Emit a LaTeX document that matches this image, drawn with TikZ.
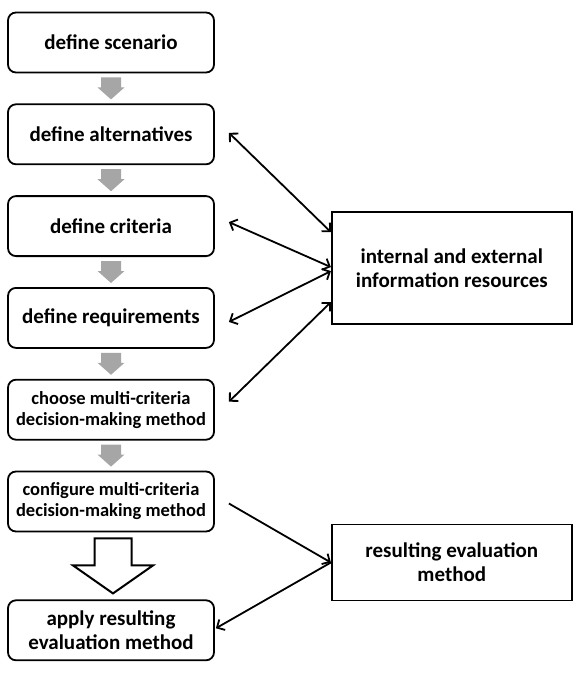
\documentclass[tikz,border=0pt]{standalone}
\usepackage{fontspec}
\setmainfont{Carlito}
\usetikzlibrary{arrows.meta,positioning}

\begin{document}
\begin{tikzpicture}[x=1pt,y=1pt]
 \tikzset{main node/.style={rectangle, draw, line width=1.8pt,
 		text centered, rounded corners=8pt, align=center,
 		minimum width=206pt, minimum height=60pt,
 		font=\fontsize{21}{24}\selectfont\bfseries}, }
 \tikzset{small node/.style={font=\fontsize{18.5}{21}\selectfont\bfseries}, }
 \tikzset{source node/.style={rectangle, draw, line width=1.8pt,
 		text centered, align=center, minimum width=240pt,
 		font=\fontsize{21}{24}\selectfont\bfseries}, }
 \tikzset{flow arrow/.style={fill=black!35}, }
 \tikzset{big arrow/.style={draw, line width=2pt, fill=white}, }
 \tikzset{linea/.style={line width=1.8pt, <->},}
 \tikzset{lineb/.style={line width=1.8pt, ->},}
 \tikzset{>={Straight Barb[length=6pt,width=12pt]}}
 \useasboundingbox (0,0) rectangle (581,-673);
 \node[main node] (1) at (111,-42.5) {define scenario};
 \node[main node] (2) [below =30pt of 1] {define alternatives};
 \node[main node] (3) [below =30pt of 2] {define criteria};
 \node[main node] (4) [below =30pt of 3] {define requirements};
 \node[main node, small node] (5) [below =30pt of 4] {choose multi-criteria\\decision-making method};
 \node[main node, small node] (6) [below =30pt of 5] {configure multi-criteria\\decision-making method};
 \node[main node] (7) [below =67pt of 6] {apply resulting\\evaluation method};
 \node[source node, minimum height=112pt] (8) [right =116pt of 3, yshift=-42pt] {internal and external\\information resources};
 \node[source node, minimum height=76pt] (9) [right =116pt of 6, yshift=-61pt] {resulting evaluation\\method};
 \foreach \x /\y in{1/2,2/3,3/4,4/5,5/6,6/7}
 \path (\x) -- (\y) coordinate[midway] (m\x);
 \foreach \x in{1,...,5}
 \fill[flow arrow] ([shift={(-10,11)}]m\x) -- ++(20,0) -- ++(0,-10) -- ++(3.5,0)
   -- ++(-13.5,-12) -- ++(-13.5,12) -- ++(3.5,0) -- cycle;
 \draw[big arrow] ([shift={(-16.5,27.5)}]m6) -- ++(37,0) -- ++(0,-27) -- ++(21.5,0)
   -- ++(-40,-28) -- ++(-40,28) -- ++(21.5,0) -- cycle;
 \foreach \x /\a /\b in{2/1.5/36,3/4/1,4/-4/-3,5/8/-34}
 \draw[linea] ([xshift=14pt,yshift=\a pt]\x.east) -- ([yshift=\b pt]8.west);
 \draw[lineb] ([xshift=14pt,yshift=-2pt]6.east) -- (9.west);
 \draw[lineb] (9.west) -- ([xshift=1pt,yshift=2pt]7.east);
 %%
\end{tikzpicture}
\end{document}
